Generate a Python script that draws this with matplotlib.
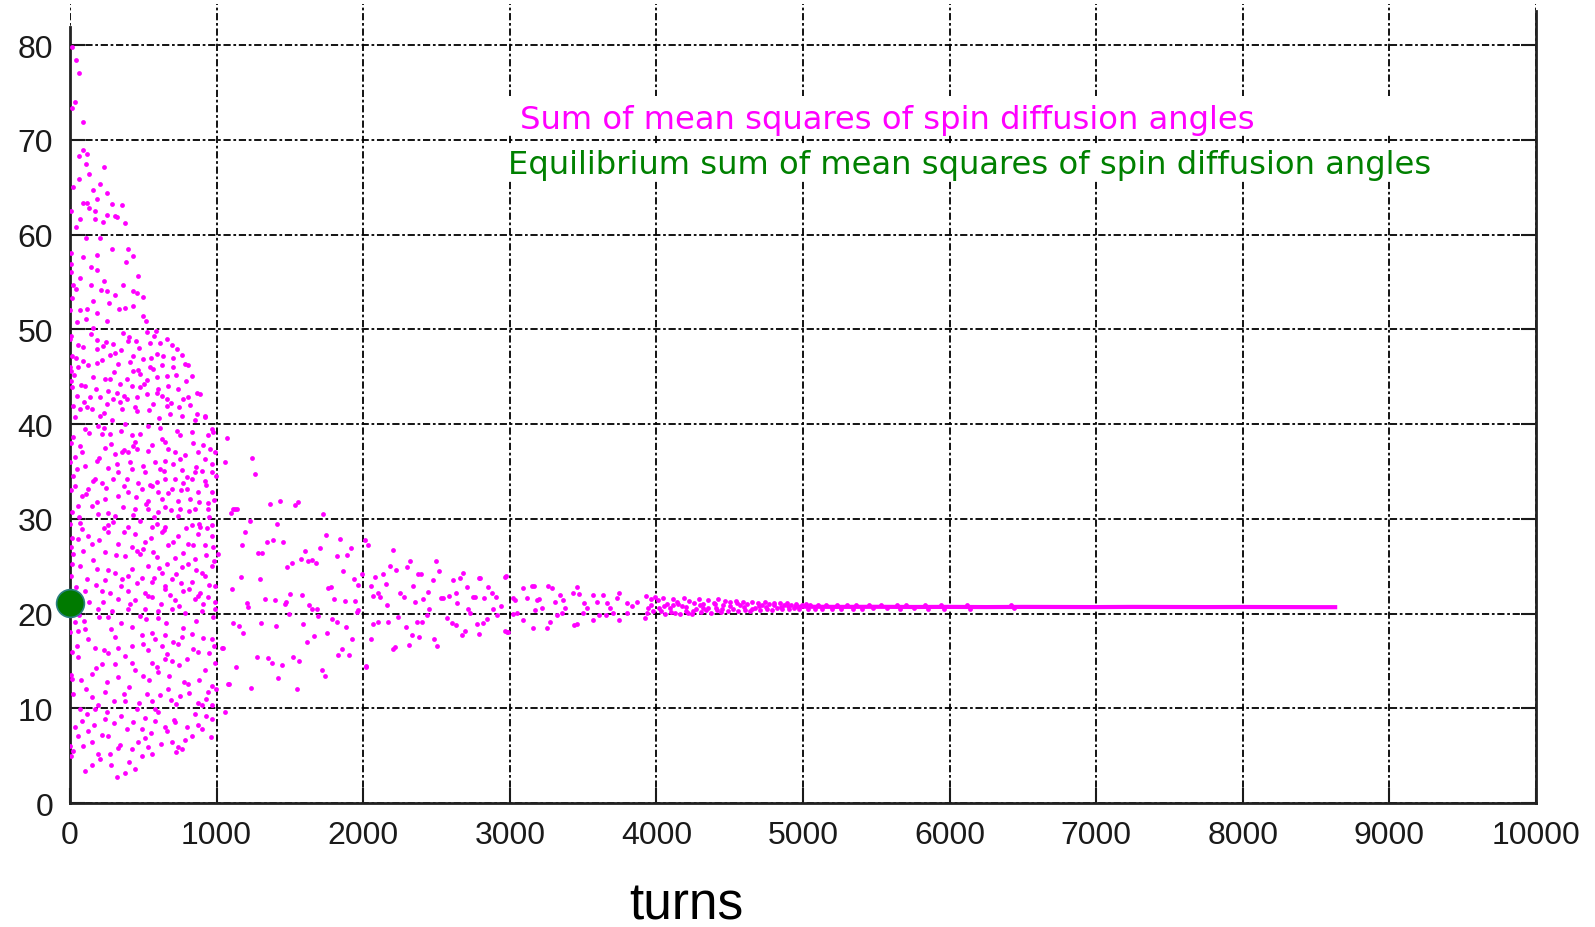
import matplotlib
matplotlib.use("Agg")
import matplotlib.pyplot as plt
from matplotlib.patches import Rectangle

plt.rcParams['font.family'] = ['Liberation Sans', 'DejaVu Sans']

# turns, sum of mean squares
early_points = [
    (11, 79.8), (41, 78.4), (64, 77.0), (34, 74.0), (11, 73.4), (86, 71.9), (86, 68.9), (64, 68.3),
    (114, 68.5), (109, 67.4), (232, 67.1), (132, 66.4), (59, 65.9), (205, 65.3), (23, 65.0), (155, 64.7),
    (255, 64.4), (182, 63.7), (91, 63.3), (118, 63.3), (284, 63.2), (352, 63.1), (132, 62.8), (170, 62.5),
    (7, 62.5), (250, 62.1), (307, 62.0), (323, 61.8), (68, 61.6), (170, 61.6), (227, 61.3), (375, 61.2),
    (41, 60.8), (109, 59.6), (205, 59.6), (284, 58.5), (398, 58.5), (432, 57.7), (186, 57.8), (91, 57.6),
    (382, 57.1), (7, 56.9), (141, 56.6), (186, 56.3), (466, 55.6), (68, 55.4), (232, 55.1), (359, 54.7),
    (23, 54.7), (141, 54.7), (41, 54.2), (209, 54.1), (255, 54.0), (427, 54.0), (455, 53.8), (307, 53.6),
    (495, 53.4), (159, 53.0), (268, 52.8), (118, 52.1), (334, 52.1), (375, 52.2), (427, 52.5), (68, 52.0),
    (186, 51.7), (11, 53.3), (109, 51.1), (255, 50.9), (45, 50.8), (500, 51.4), (518, 50.9), (159, 50.1),
    (7, 49.3), (523, 49.7), (573, 49.3), (659, 49.0), (545, 48.6), (614, 48.6), (182, 48.9), (245, 48.7),
    (295, 48.4), (57, 48.3), (398, 48.8), (450, 48.8), (693, 48.3), (727, 47.9), (91, 48.1), (182, 47.9),
    (591, 47.4), (636, 47.2), (273, 47.3), (307, 47.5), (11, 47.2), (41, 47.0), (500, 46.9), (761, 47.3),
    (91, 46.7), (182, 46.4), (330, 46.3), (784, 46.3), (807, 46.2), (705, 46.0), (545, 46.0), (7, 45.6),
    (432, 45.6), (466, 45.7), (568, 45.8), (830, 45.1), (659, 45.1), (386, 44.7), (239, 44.7), (273, 44.7),
    (523, 44.6), (341, 44.2), (420, 44.0), (477, 43.9), (102, 44.0), (11, 43.9), (602, 43.7), (739, 43.7),
    (591, 43.3), (864, 43.3), (886, 43.2), (523, 43.2), (318, 43.3), (45, 43.0), (136, 42.8), (205, 42.8),
    (295, 42.6), (386, 42.6), (455, 42.8), (659, 42.6), (773, 42.6), (807, 42.8), (250, 42.1), (341, 42.3),
    (568, 42.1), (659, 41.9), (114, 41.8), (68, 41.6), (148, 41.6), (352, 41.6), (455, 41.4), (682, 41.1),
    (761, 40.9), (864, 41.1), (920, 40.9), (34, 40.7), (205, 40.9),
    (193, 39.8), (375, 40.0), (534, 39.8), (921, 40.7), (966, 39.5), (102, 39.5), (216, 38.9), (273, 38.9),
    (421, 38.8), (443, 38.1), (625, 38.4), (750, 38.8), (830, 39.2), (944, 38.8), (68, 37.7), (239, 37.5),
    (432, 37.7), (648, 38.1), (534, 37.2), (875, 37.0), (989, 37.0), (34, 36.5), (307, 36.8), (352, 37.0),
    (398, 37.0), (455, 37.4), (716, 37.0), (750, 36.3), (580, 36.0), (648, 36.1), (182, 36.1), (102, 35.6),
    (921, 36.3), (966, 35.8), (261, 35.4), (330, 34.9), (421, 35.3), (512, 34.9), (614, 35.3), (762, 35.1),
    (853, 34.9), (966, 34.9), (23, 34.5), (171, 34.2), (216, 33.8), (296, 34.2), (387, 34.2), (466, 33.8),
    (557, 33.5), (648, 34.2), (716, 34.2), (773, 33.8), (830, 34.2), (921, 34.0), (125, 33.1), (398, 32.8),
    (489, 33.1), (602, 32.8), (693, 33.1), (796, 33.1), (875, 32.8), (966, 32.8), (80, 32.4), (239, 32.1),
    (330, 32.4), (534, 31.9), (625, 32.1), (739, 31.9), (819, 32.1), (944, 31.7), (57, 31.4), (148, 31.4),
    (364, 31.2), (443, 31.0), (534, 31.0), (648, 31.2), (750, 31.0), (853, 31.0), (944, 31.0), (11, 30.7),
    (193, 30.5), (307, 30.3), (602, 30.7), (739, 30.3), (887, 29.1), (830, 29.3), (80, 28.9), (261, 29.3),
    (398, 29.1), (557, 29.1), (648, 29.1), (966, 29.3),
    (57, 27.9), (11, 28.0), (261, 28.6), (443, 28.4), (625, 28.6), (739, 28.2), (875, 28.4), (966, 28.2),
    (148, 27.3), (330, 27.3), (512, 27.5), (671, 27.2), (807, 27.3), (921, 27.2), (23, 26.3), (239, 26.5),
    (375, 26.1), (478, 26.3), (568, 26.5), (716, 25.9), (853, 25.8), (68, 25.0), (182, 24.7), (307, 24.3),
    (421, 24.7), (534, 25.0), (625, 24.3), (762, 24.9), (898, 24.3), (966, 25.0), (114, 23.6), (239, 23.5),
    (352, 23.6), (489, 23.8), (557, 23.3), (693, 23.6), (830, 23.3), (921, 24.0), (989, 22.9), (216, 22.4),
    (398, 22.4), (512, 22.2), (648, 22.6), (773, 22.4), (887, 22.2), (102, 22.4), (330, 21.5), (443, 21.4),
    (557, 21.7), (716, 21.4), (853, 21.5), (944, 21.7), (193, 20.5), (284, 20.3), (398, 20.5), (512, 20.5),
    (602, 20.3), (693, 20.5), (784, 20.1), (898, 20.3), (989, 20.5), (34, 19.1), (102, 18.4), (57, 18.2),
    (307, 17.5), (489, 17.7), (580, 17.3), (648, 17.7), (762, 17.5), (830, 17.8), (966, 17.3), (171, 16.4),
    (330, 16.4), (421, 16.6), (534, 16.1), (659, 15.7), (739, 16.8), (875, 15.9), (11, 15.9), (261, 15.8),
    (57, 15.4), (216, 14.7), (307, 14.7), (421, 14.8), (557, 14.8), (648, 15.2), (693, 15.0), (921, 14.0),
    (989, 14.8), (148, 13.6), (500, 13.4), (602, 13.8), (807, 12.6), (966, 12.4), (11, 13.1), (239, 11.7),
    (523, 11.5), (671, 12.0), (750, 11.3), (944, 11.7), (375, 10.8), (557, 10.8), (875, 10.6), (193, 10.3),
    (455, 9.9), (580, 9.9), (966, 10.3), (68, 9.9), (171, 9.9), (80, 8.7), (239, 8.9), (580, 8.7),
    (648, 8.0), (716, 8.5), (898, 7.8), (966, 8.9), (387, 7.8), (489, 7.8), (125, 7.6), (262, 7.1),
    (57, 7.1), (512, 6.9), (693, 6.4), (784, 6.6), (830, 7.1), (23, 5.5), (148, 6.4), (341, 6.1),
    (421, 5.7), (534, 5.9), (739, 5.9), (762, 5.7), (273, 5.2), (489, 5.0), (102, 3.4), (318, 2.7),
    (375, 3.2), (443, 3.6), (205, 4.6),
    (3, 46.0), (5, 44.5), (4, 38.0), (2, 36.0), (6, 33.0), (3, 29.5), (5, 27.0), (4, 24.0),
    (2, 18.0), (4, 13.5), (6, 5.0), (3, 6.0), (5, 58.0), (4, 56.0), (3, 52.0), (2, 49.0),
]

# second pass over the dense block below 50
early_fill = [
    (30, 45.2), (75, 44.1), (120, 46.2), (160, 45.0), (215, 46.8), (260, 43.5), (300, 45.5), (345, 47.8),
    (365, 43.0), (410, 46.5), (440, 41.8), (470, 48.0), (505, 44.2), (540, 41.5), (555, 47.0), (590, 45.0),
    (610, 40.6), (630, 46.2), (665, 44.0), (690, 42.2), (720, 45.2), (745, 41.8), (790, 44.5), (820, 42.0),
    (850, 40.4), (95, 42.3), (175, 43.7), (235, 41.2), (285, 40.4), (400, 49.2), (480, 45.3), (625, 43.0),
    (700, 47.0), (18, 41.9), (52, 46.0), (140, 49.5), (225, 48.2), (360, 49.6), (430, 47.2), (585, 49.8),
    (20, 38.6), (48, 35.3), (85, 37.1), (130, 39.1), (155, 34.0), (200, 36.4), (245, 33.2), (280, 37.9),
    (320, 35.8), (345, 39.3), (370, 33.5), (410, 36.0), (450, 32.3), (475, 39.0), (500, 35.6), (520, 31.6),
    (560, 37.8), (590, 33.9), (615, 39.6), (640, 35.0), (665, 37.4), (690, 30.9), (705, 35.8), (730, 39.3),
    (760, 33.0), (785, 36.7), (810, 30.8), (840, 38.0), (860, 35.5), (880, 31.8), (905, 37.8), (930, 33.6),
    (955, 37.4), (985, 32.0), (995, 34.5), (60, 30.2), (110, 32.6), (185, 31.8), (260, 30.6), (430, 30.4),
    (575, 30.2), (800, 34.4), (900, 35.0), (975, 39.2), (35, 33.5), (365, 37.3), (545, 33.6), (670, 32.7),
    (945, 30.2), (230, 39.6),
    (15, 25.2), (40, 22.8), (70, 29.6), (90, 26.6), (125, 28.2), (160, 25.6), (200, 27.8), (225, 21.2),
    (260, 24.6), (290, 29.7), (315, 26.2), (345, 22.9), (370, 28.6), (395, 24.0), (420, 27.0), (460, 23.2),
    (480, 29.8), (500, 26.8), (535, 21.8), (550, 28.0), (575, 23.8), (595, 26.0), (620, 21.0), (640, 28.8),
    (660, 25.2), (680, 22.0), (700, 27.6), (725, 24.2), (745, 20.8), (770, 26.4), (790, 29.0), (815, 22.6),
    (840, 27.2), (860, 24.6), (880, 29.5), (905, 21.0), (925, 26.2), (950, 23.0), (975, 27.0), (990, 21.2),
    (130, 21.2), (175, 23.0), (235, 29.0), (410, 21.0), (590, 29.4), (650, 22.9), (760, 23.2), (870, 21.9),
    (935, 29.0), (985, 25.5), (50, 20.6), (275, 22.2), (455, 26.6), (610, 24.8), (805, 25.2),
    (20, 11.5), (45, 16.6), (75, 13.0), (95, 19.2), (120, 17.3), (150, 11.2), (175, 14.2), (200, 19.6),
    (230, 16.1), (255, 12.8), (280, 18.4), (300, 10.8), (325, 13.3), (350, 19.0), (375, 15.5), (400, 12.2),
    (420, 18.6), (445, 14.0), (470, 10.6), (495, 16.8), (515, 19.4), (540, 13.0), (560, 17.9), (590, 14.4),
    (615, 11.4), (630, 16.6), (655, 19.0), (675, 13.4), (700, 17.0), (720, 10.4), (745, 14.6), (770, 18.5),
    (795, 15.2), (815, 11.6), (840, 16.3), (860, 19.2), (880, 13.0), (905, 17.4), (930, 11.0), (950, 15.8),
    (975, 19.6), (995, 12.0), (60, 19.8), (110, 12.0), (260, 19.6), (365, 11.5), (480, 19.7), (600, 19.5),
    (690, 10.9), (780, 12.8), (900, 10.3), (985, 16.6),
    (35, 8.0), (90, 6.0), (115, 9.4), (165, 8.2), (190, 5.2), (215, 7.2), (250, 9.6), (280, 4.0),
    (300, 8.4), (350, 9.2), (400, 4.3), (430, 8.6), (465, 6.4), (510, 9.0), (550, 7.4), (600, 9.6),
    (620, 6.2), (660, 7.6), (710, 8.8), (725, 5.4), (800, 8.0), (850, 9.4), (870, 8.2), (930, 9.2),
    (960, 7.0), (150, 4.0), (330, 5.8), (560, 5.2),
]

mid_points = [
    (1069, 38.5), (1057, 36.0), (1114, 31.0), (1012, 26.3), (1103, 22.6), (1034, 16.4), (1080, 12.6), (1057, 9.6),
    (1244, 36.4), (1262, 34.7), (1364, 31.6), (1433, 31.9), (1535, 31.5), (1553, 31.8), (1096, 30.6), (1126, 31.0),
    (1141, 31.0), (1228, 29.8), (1724, 30.5), (1194, 28.6), (1171, 27.2), (1285, 26.4), (1312, 26.4), (1346, 27.5),
    (1387, 27.8), (1451, 27.6), (1414, 29.4), (1574, 25.8), (1603, 26.6), (1483, 24.9), (1512, 25.3), (1626, 25.5),
    (1649, 25.7), (1678, 25.3), (1705, 26.9), (1746, 28.3), (1842, 27.9), (1824, 26.1), (1892, 26.2), (1915, 26.9),
    (1865, 24.5), (1164, 23.9), (1296, 23.6), (1501, 22.1), (1580, 22.0), (1762, 22.7), (1778, 22.8), (1801, 21.5),
    (1876, 21.3), (1937, 23.6), (1962, 23.0), (1944, 21.3), (1990, 24.2), (1205, 21.1), (1217, 20.7), (1330, 21.5),
    (1398, 21.4), (1467, 21.0), (1473, 21.2), (1633, 20.9), (1649, 20.5), (1687, 20.5), (1114, 19.0), (1155, 18.7),
    (1303, 19.0), (1405, 18.7), (1496, 19.9), (1592, 18.9), (1694, 19.7), (1785, 19.4), (1819, 19.1), (1883, 18.6),
    (1956, 20.2), (1967, 20.4), (1182, 17.9), (1751, 17.9), (1615, 17.0), (1664, 17.6), (1926, 17.3), (1853, 16.3),
    (1830, 15.6), (1906, 15.6), (1046, 16.4), (1273, 15.4), (1353, 15.3), (1376, 14.8), (1444, 14.6), (1524, 15.4),
    (1564, 15.0), (1132, 14.4), (1421, 13.2), (1717, 14.0), (1740, 13.4), (1085, 12.6), (1235, 12.1), (1546, 12.0),
    (2017, 14.4), (2012, 27.8), (2035, 27.2), (2201, 26.7), (2183, 25.0), (2224, 24.6), (2319, 25.5), (2301, 24.9),
    (2376, 24.2), (2392, 24.2), (2497, 25.5), (2515, 24.5), (2474, 23.5), (2683, 24.3), (2661, 23.7), (2615, 23.5),
    (2792, 23.8), (2970, 23.9), (2081, 23.9), (2138, 24.2), (2154, 23.1), (2053, 22.9), (2099, 22.2), (2065, 21.8),
    (2115, 21.7), (2160, 20.9), (2251, 22.2), (2279, 21.7), (2338, 22.9), (2354, 21.2), (2410, 21.5), (2444, 22.3),
    (2531, 21.6), (2547, 21.6), (2588, 21.9), (2633, 22.2), (2642, 21.1), (2706, 22.8), (2751, 21.7), (2763, 21.7),
    (2824, 21.6), (2854, 22.8), (2877, 22.2), (2906, 21.7), (2938, 20.8), (2888, 20.5), (2717, 20.5), (2729, 20.1),
    (2451, 20.5), (2069, 18.9), (2103, 19.1), (2172, 19.1), (2240, 19.6), (2292, 18.6), (2365, 19.1), (2401, 19.1),
    (2433, 19.8), (2574, 19.5), (2604, 19.0), (2633, 18.8), (2774, 18.9), (2815, 19.0), (2842, 19.4), (2915, 19.8),
    (2051, 17.3), (2201, 16.3), (2217, 16.5), (2315, 16.7), (2331, 17.7), (2383, 17.5), (2483, 17.3), (2506, 16.6),
    (2695, 18.2), (2672, 17.7), (2792, 17.8), (2968, 18.2), (2979, 18.1), (2019, 14.5), (2797, 23.7), (2975, 24.0),
]

late_points = [
    (3025, 21.6), (3036, 21.4), (3093, 22.7), (3150, 22.9), (3166, 22.9), (3116, 21.6), (3184, 21.4), (3218, 20.6),
    (3202, 21.5), (3263, 22.9), (3286, 22.7), (3343, 22.0), (3361, 21.4), (3309, 21.2), (3377, 20.6), (3434, 22.2),
    (3457, 22.8), (3475, 22.1), (3507, 21.1), (3525, 20.6), (3570, 22.0), (3593, 21.2), (3634, 22.0), (3666, 21.1),
    (3684, 20.6), (3748, 22.2), (3734, 21.6), (3798, 21.1), (3832, 20.8), (3866, 21.2), (3930, 21.8), (3946, 20.6),
    (3962, 20.9), (3020, 19.9), (3093, 19.3), (3156, 18.5), (3275, 19.1), (3252, 18.5), (3457, 18.9), (3439, 18.8),
    (3566, 19.3), (3605, 19.8), (3657, 19.8), (3748, 19.3), (3923, 19.5), (3934, 20.1), (2990, 18.1), (3047, 20.1),
    (3172, 20.4), (3320, 19.8), (3354, 20.1), (3502, 20.1), (3707, 20.1), (3798, 20.1),
    (3960, 21.5), (3975, 20.3), (3990, 21.7), (4010, 21.4), (4030, 20.3), (4045, 21.6), (4060, 20.0), (4075, 21.0),
    (4090, 20.6), (4110, 21.5), (4125, 20.1), (4140, 21.2), (4160, 19.9), (4175, 20.8), (4190, 21.6), (4205, 20.3),
    (4220, 21.3), (4240, 20.0), (4255, 21.1), (4270, 20.5), (4290, 21.5), (4305, 20.2), (4320, 21.0), (4340, 20.4),
    (4355, 21.4), (4370, 20.1), (4390, 21.1), (4405, 20.6), (4420, 21.5), (4440, 20.2), (4455, 20.9), (4470, 21.3),
    (4490, 20.3), (4505, 21.2), (4520, 20.5), (4540, 21.3), (4555, 20.3), (4570, 20.9), (4590, 21.2), (4605, 20.4),
    (4620, 21.0), (4640, 20.3), (4655, 21.2), (4670, 20.6), (4690, 21.1), (4705, 20.4), (4720, 20.9), (4740, 21.2),
    (4755, 20.5), (4770, 21.0), (4790, 20.4), (4805, 21.1), (4820, 20.6), (4840, 21.1), (4855, 20.5), (4870, 20.9),
    (4890, 21.1), (4905, 20.5), (4920, 20.9), (4940, 20.6), (4955, 21.0), (4970, 20.5), (4990, 20.9),
    (4050, 20.8), (4100, 20.2), (4150, 21.0), (4200, 20.7), (4250, 20.3), (4300, 20.9), (4350, 20.6), (4400, 21.0),
    (4450, 20.5), (4500, 20.8), (4550, 21.1), (4600, 20.7), (4650, 20.5), (4700, 20.8), (4750, 20.7), (4800, 20.9),
    (4850, 20.7), (4900, 20.8), (4950, 20.8), (4015, 20.6), (4115, 20.9), (4215, 20.1), (4315, 20.6), (4415, 20.4),
    (5020, 21.0), (5035, 20.5), (5050, 20.95), (5080, 20.45), (5100, 20.95), (5130, 20.5), (5160, 20.95), (5200, 20.5),
    (5230, 20.9), (5260, 20.5), (5300, 20.9), (5340, 20.5), (5360, 20.9), (5400, 20.5), (5450, 20.9), (5480, 20.55),
    (5530, 20.85), (5570, 20.55), (5640, 20.9), (5660, 20.5), (5700, 20.85), (5760, 20.55), (5830, 20.9), (5850, 20.5),
    (5940, 20.9), (5960, 20.5), (6120, 20.9), (6140, 20.5), (6420, 20.85), (6440, 20.55),
]

tail_turns = [4950, 5250, 5500, 5750, 6000, 6250, 6500, 6750, 7000, 7250, 7500, 7750, 8000, 8250, 8500, 8630]
tail_angles = [20.72, 20.70, 20.71, 20.69, 20.70, 20.68, 20.70, 20.69, 20.68, 20.70, 20.69, 20.68, 20.69, 20.68, 20.67, 20.67]

equilibrium_turns = [0]
equilibrium_angles = [21.1]

x_ticks = [0, 1000, 2000, 3000, 4000, 5000, 6000, 7000, 8000, 9000, 10000]
y_ticks = [0, 10, 20, 30, 40, 50, 60, 70, 80]

label_sum = 'Sum of mean squares of spin diffusion angles'
label_eq = 'Equilibrium sum of mean squares of spin diffusion angles'

magenta = '#ff00ff'
green = '#008000'

fig = plt.figure(figsize=(15.95, 9.28), dpi=100)
ax = fig.add_axes([0.0439, 0.1336, 0.9191, 0.861])
ax.set_xlim(0, 10000)
ax.set_ylim(0, 84.33)
ax.set_xticks(x_ticks)
ax.set_yticks(y_ticks)
ax.tick_params(direction='in', length=11, width=1.5, labelsize=23, pad=12,
               right=True, top=False, colors='#1a1a1a')

ax.set_axisbelow(True)
ax.grid(True, color='black', linestyle=(0, (4, 1.5, 1.5, 1.5)), linewidth=1.3)

for side in ['left', 'right', 'bottom']:
    ax.spines[side].set_linewidth(2)
    ax.spines[side].set_color('#222222')
ax.spines['top'].set_visible(False)
ax.spines['left'].set_bounds(0, 81.9)
ax.spines['right'].set_bounds(0, 83.6)

# white key boxes hide the vertical grid behind the labels
ax.add_patch(Rectangle((2950, 70.5), 6400, 4.1, facecolor='white', edgecolor='none', zorder=1))
ax.add_patch(Rectangle((2950, 65.6), 6400, 4.0, facecolor='white', edgecolor='none', zorder=1))

for pts in [early_points, early_fill, mid_points, late_points]:
    xs, ys = zip(*pts)
    ax.scatter(xs, ys, s=12, c=magenta, linewidths=0, zorder=3)
ax.plot(tail_turns, tail_angles, color=magenta, linewidth=3, zorder=3)

ax.plot(equilibrium_turns, equilibrium_angles, 'o', ms=20, color='#007a00',
        mec='#2a7f7f', mew=1.2, clip_on=False, zorder=5)

ax.text(3070, 72.1, label_sum, color=magenta, fontsize=23.2, family='DejaVu Sans',
        va='center', zorder=4)
ax.text(2988, 67.4, label_eq, color=green, fontsize=23.2, family='DejaVu Sans',
        va='center', zorder=4)

fig.text(686 / 1595, 8 / 928, 'turns', ha='center', va='baseline', fontsize=37, color='black')

fig.savefig('out.png', dpi=100)
